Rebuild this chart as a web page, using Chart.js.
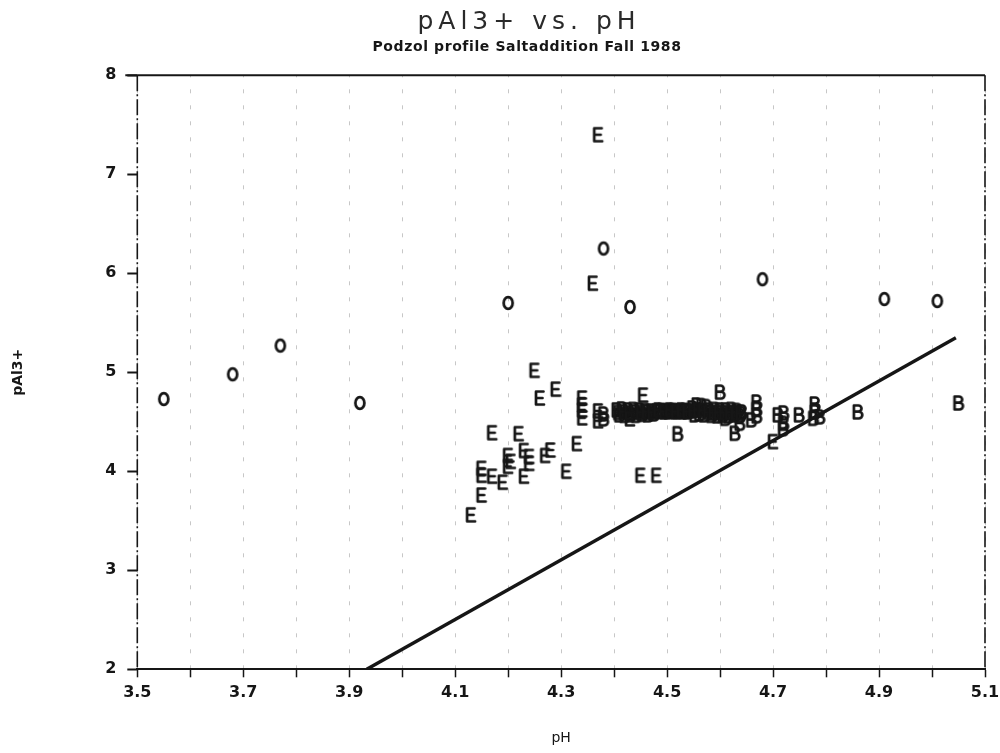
<!DOCTYPE html>
<html>
<head>
<meta charset="utf-8">
<script src="https://cdn.jsdelivr.net/npm/chart.js@4.4.1/dist/chart.umd.min.js"></script>
<style>
  html, body { margin: 0; padding: 0; background: #fff; }
  #wrap { width: 1000px; height: 753px; }
</style>
</head>
<body>
<div id="wrap"><canvas id="c" width="1000" height="753"></canvas></div>
<script>
// pAl3+ against pH for the podzol profile, one letter per horizon:
// O = organic layer, E = eluvial, B = illuvial. Line = gibbsite equilibrium.

const xTickLabels = ['3.5', '3.7', '3.9', '4.1', '4.3', '4.5', '4.7', '4.9', '5.1'];
const yTickLabels = ['2', '3', '4', '5', '6', '7', '8'];

const oPH  = [3.55, 3.68, 3.77, 3.92, 4.20, 4.38, 4.43, 4.68, 4.91, 5.01];
const oPAl = [4.73, 4.98, 5.27, 4.69, 5.70, 6.25, 5.66, 5.94, 5.74, 5.72];

const ePH  = [4.37, 4.36, 4.25, 4.29, 4.26, 4.34, 4.34, 4.34, 4.34, 4.37, 4.37, 4.455, 4.43,
              4.17, 4.22, 4.33, 4.23, 4.24, 4.24, 4.20, 4.205, 4.20, 4.28, 4.27, 4.31,
              4.15, 4.15, 4.17, 4.19, 4.23, 4.45, 4.48, 4.15, 4.13, 4.70];
const ePAl = [7.40, 5.90, 5.02, 4.83, 4.74, 4.74, 4.67, 4.62, 4.54, 4.61, 4.51, 4.77, 4.53,
              4.39, 4.38, 4.28, 4.21, 4.15, 4.08, 4.16, 4.10, 4.05, 4.215, 4.16, 4.00,
              4.03, 3.96, 3.95, 3.89, 3.95, 3.96, 3.96, 3.76, 3.56, 4.30];

const bPH  = [4.38, 4.38, 4.52, 4.60, 4.61, 4.628, 4.637, 4.659, 4.669, 4.669, 4.669,
              4.709, 4.72, 4.72, 4.719, 4.749, 4.779, 4.779, 4.788, 4.776, 4.86, 5.05,
              // dense run of samples around pH 4.4-4.65
              4.405, 4.41, 4.415, 4.42, 4.426, 4.431, 4.437, 4.442, 4.448, 4.453, 4.459, 4.464, 4.47, 4.475,
              4.481, 4.487, 4.492, 4.498, 4.503, 4.509, 4.514, 4.52, 4.525, 4.531, 4.536, 4.542,
              4.548, 4.552, 4.556, 4.561, 4.565, 4.57, 4.574,
              4.58, 4.584, 4.59, 4.595, 4.60, 4.605, 4.611, 4.616, 4.622, 4.627, 4.632, 4.637, 4.641,
              4.408, 4.418, 4.429, 4.44, 4.451, 4.462, 4.473, 4.484, 4.495, 4.506, 4.517, 4.528,
              4.539, 4.55, 4.559, 4.568, 4.578, 4.588, 4.598, 4.608, 4.619, 4.63, 4.639];
const bPAl = [4.58, 4.53, 4.38, 4.80, 4.535, 4.384, 4.485, 4.52, 4.70, 4.625, 4.56,
              4.57, 4.59, 4.485, 4.43, 4.57, 4.68, 4.60, 4.55, 4.535, 4.60, 4.69,
              4.62, 4.57, 4.63, 4.565, 4.62, 4.57, 4.625, 4.565, 4.62, 4.575, 4.615, 4.57, 4.61, 4.58,
              4.61, 4.605, 4.615, 4.61, 4.60, 4.61, 4.615, 4.605, 4.61, 4.60, 4.615, 4.61,
              4.64, 4.57, 4.67, 4.58, 4.665, 4.57, 4.655,
              4.62, 4.565, 4.625, 4.56, 4.62, 4.565, 4.62, 4.56, 4.625, 4.57, 4.615, 4.565, 4.60,
              4.595, 4.60, 4.59, 4.60, 4.595, 4.60, 4.595, 4.62, 4.60, 4.62, 4.60, 4.62,
              4.60, 4.61, 4.62, 4.615, 4.595, 4.59, 4.595, 4.59, 4.595, 4.59, 4.585];

const linePH  = [3.933, 5.045];
const linePAl = [2.0, 5.35];

const INK = '#161616';

const pts = (xs, ys) => xs.map((x, i) => ({ x, y: ys[i] }));

// Plotter-style letter used as the point marker.
function glyph(letter) {
    const cv = document.createElement('canvas');
    cv.width = 14; cv.height = 18;
    const g = cv.getContext('2d');
    g.strokeStyle = INK; g.lineWidth = 2.7; g.lineCap = 'round'; g.lineJoin = 'round';
    g.beginPath();
    if (letter === 'O') {
        g.ellipse(7, 9, 4.5, 5.9, 0, 0, Math.PI * 2);
    } else if (letter === 'E') {
        g.moveTo(10.5, 2.5); g.lineTo(3, 2.5); g.lineTo(3, 15.5); g.lineTo(11, 15.5);
        g.moveTo(3, 9); g.lineTo(9.5, 9);
    } else {
        g.moveTo(3, 2.5); g.lineTo(3, 15.5);
        g.moveTo(3, 2.5); g.lineTo(7.5, 2.5); g.arc(7.5, 5.6, 3.1, -Math.PI / 2, Math.PI / 2); g.lineTo(3, 8.7);
        g.moveTo(3, 8.7); g.lineTo(8, 8.7); g.arc(8, 12.1, 3.4, -Math.PI / 2, Math.PI / 2); g.lineTo(3, 15.5);
    }
    g.stroke();
    return cv;
}

// Faint dashed verticals at every x tick, under the points.
const dashedGrid = {
    id: 'dashedGrid',
    beforeDatasetsDraw(chart) {
        const { ctx, chartArea: a, scales: { x } } = chart;
        ctx.save();
        ctx.strokeStyle = 'rgba(0,0,0,0.22)';
        ctx.lineWidth = 1;
        ctx.setLineDash([4, 12]);
        x.ticks.forEach((t) => {
            const px = Math.round(x.getPixelForValue(t.value)) + 0.5;
            ctx.beginPath(); ctx.moveTo(px, a.bottom); ctx.lineTo(px, a.top); ctx.stroke();
        });
        ctx.restore();
    },
};

// Frame pieces the axes don't draw, plus the two title lines.
const frameAndTitles = {
    id: 'frameAndTitles',
    afterDraw(chart) {
        const { ctx, chartArea: a } = chart;
        ctx.save();
        ctx.strokeStyle = INK;
        ctx.lineWidth = 2;
        ctx.beginPath(); ctx.moveTo(a.left - 12, a.top); ctx.lineTo(a.right, a.top); ctx.stroke();
        ctx.lineWidth = 1.6;
        ctx.setLineDash([16, 3, 2, 3]);
        ctx.beginPath(); ctx.moveTo(a.left, a.top); ctx.lineTo(a.left, a.bottom); ctx.stroke();
        ctx.beginPath(); ctx.moveTo(a.right, a.top); ctx.lineTo(a.right, a.bottom); ctx.stroke();
        ctx.setLineDash([]);

        const cx = chart.width / 2 + 27;
        ctx.fillStyle = '#2a2a2a';
        ctx.textAlign = 'center';
        ctx.textBaseline = 'middle';
        ctx.letterSpacing = '5px';
        ctx.font = '25px "DejaVu Sans"';
        ctx.fillText('pAl3+ vs. pH', cx + 2, 22);
        ctx.letterSpacing = '0.6px';
        ctx.fillStyle = INK;
        ctx.font = 'bold 14px "DejaVu Sans"';
        ctx.fillText('Podzol profile Saltaddition Fall 1988', cx, 47);
        ctx.restore();
    },
};

const letterSet = (label, xs, ys, letter) => ({
    label, data: pts(xs, ys), type: 'scatter',
    pointStyle: glyph(letter), pointRadius: 5, pointHoverRadius: 5,
});

new Chart(document.getElementById('c'), {
    type: 'scatter',
    data: {
        datasets: [
            { label: 'gibbsite', type: 'line', data: pts(linePH, linePAl),
              borderColor: INK, borderWidth: 3.4, pointRadius: 0, fill: false, tension: 0 },
            letterSet('O', oPH, oPAl, 'O'),
            letterSet('E', ePH, ePAl, 'E'),
            letterSet('B', bPH, bPAl, 'B'),
        ],
    },
    options: {
        responsive: false,
        animation: false,
        events: [],
        layout: { padding: { top: 75.3, left: 10, right: 15, bottom: 4 } },
        plugins: { legend: { display: false }, tooltip: { enabled: false }, title: { display: false } },
        scales: {
            x: {
                type: 'linear', min: 3.5, max: 5.1,
                // fixed box; the end labels may hang into the page margin
                afterFit: (s) => { s.height = 79.7; s.paddingLeft = 0; s.paddingRight = 0; },
                ticks: {
                    stepSize: 0.1, padding: 6, color: INK, maxRotation: 0, autoSkip: false,
                    font: { family: 'DejaVu Sans', size: 16, weight: 'bold' },
                    callback: (v) => { const t = (+v).toFixed(1); return xTickLabels.includes(t) ? t : ''; },
                },
                grid: { drawOnChartArea: false, tickColor: INK, tickLength: 8, tickWidth: 1.5 },
                border: { display: true, color: INK, width: 2 },
                title: { display: true, text: 'pH', color: INK, padding: { top: 4, bottom: 2 },
                         font: { family: 'DejaVu Sans', size: 14 } },
            },
            y: {
                type: 'linear', min: 2, max: 8,
                afterFit: (s) => { s.width = 127.3; s.paddingTop = 0; s.paddingBottom = 0; },
                ticks: {
                    stepSize: 1, padding: 11, color: INK,
                    font: { family: 'DejaVu Sans', size: 16, weight: 'bold' },
                    callback: (v) => { const t = String(v); return yTickLabels.includes(t) ? t : ''; },
                },
                grid: { drawOnChartArea: false, tickColor: INK, tickLength: 10, tickWidth: 2 },
                border: { display: false },
                title: { display: true, text: 'pAl3+', color: INK, padding: 0,
                         font: { family: 'DejaVu Sans', size: 14, weight: 'bold' } },
            },
        },
    },
    plugins: [dashedGrid, frameAndTitles],
});
</script>
</body>
</html>
